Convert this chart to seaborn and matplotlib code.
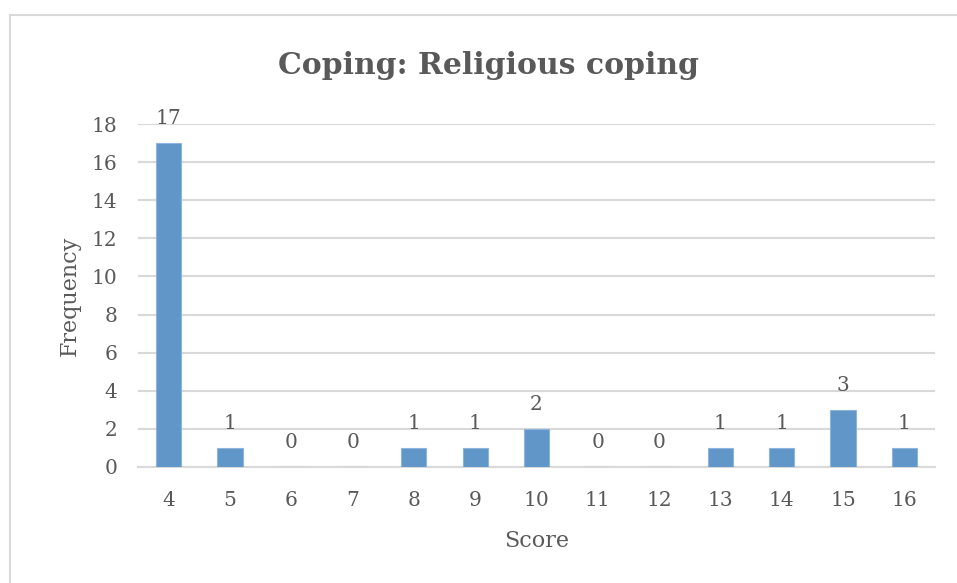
import matplotlib
matplotlib.use("Agg")
import matplotlib.pyplot as plt
import seaborn as sns
import pandas as pd
from matplotlib.patches import Rectangle

# Score distribution for religious coping
scores = [4, 5, 6, 7, 8, 9, 10, 11, 12, 13, 14, 15, 16]
frequency = [17, 1, 0, 0, 1, 1, 2, 0, 0, 1, 1, 3, 1]
y_ticks = [0, 2, 4, 6, 8, 10, 12, 14, 16, 18]

title = "Coping: Religious coping"
x_label = "Score"
y_label = "Frequency"

sns.set_theme(style="white")
plt.rcParams["font.family"] = ["DejaVu Serif"]

text_color = "#595959"
grid_color = "#D9D9D9"
bar_color = "#6096C8"

df = pd.DataFrame({"Score": [str(s) for s in scores], "Frequency": frequency})

fig = plt.figure(figsize=(9.57, 5.83), dpi=100)
ax = fig.add_axes([138 / 957, 116 / 583, 797 / 957, 343 / 583])

# outer chart border
fig.patches.append(Rectangle((10 / 957, -0.01), 1.0, (583 - 15) / 583 + 0.01,
                             transform=fig.transFigure, fill=False,
                             edgecolor="#D9D9D9", linewidth=1.5))

sns.barplot(data=df, x="Score", y="Frequency", color=bar_color, width=0.41,
            saturation=1, edgecolor="#8DB4DC", linewidth=0.8, ax=ax, zorder=3)

ax.set_ylim(0, 18)
ax.set_yticks(y_ticks)
ax.set_xlim(-0.5, len(scores) - 0.5)
ax.grid(axis="y", color=grid_color, linewidth=1.5, zorder=0)
ax.grid(axis="x", visible=False)
for side in ["top", "right", "left"]:
    ax.spines[side].set_visible(False)
ax.spines["bottom"].set_color(grid_color)
ax.spines["bottom"].set_linewidth(1.5)

ax.tick_params(axis="both", length=0, labelsize=14.5, colors=text_color)
ax.tick_params(axis="x", pad=17)
ax.tick_params(axis="y", pad=15)

for i, v in enumerate(frequency):
    ax.annotate(str(v), (i, v), xytext=(0, 11), textcoords="offset points",
                ha="center", va="bottom", fontsize=14.5, color=text_color)

ax.set_xlabel(x_label, fontsize=16, color=text_color, labelpad=15)
ax.set_ylabel(y_label, fontsize=16, color=text_color, labelpad=8)

fig.text(488 / 957, 1 - 66 / 583, title, ha="center", va="center",
         fontsize=21.5, fontweight="bold", color=text_color)

fig.savefig("out.png", dpi=100, facecolor="white")
